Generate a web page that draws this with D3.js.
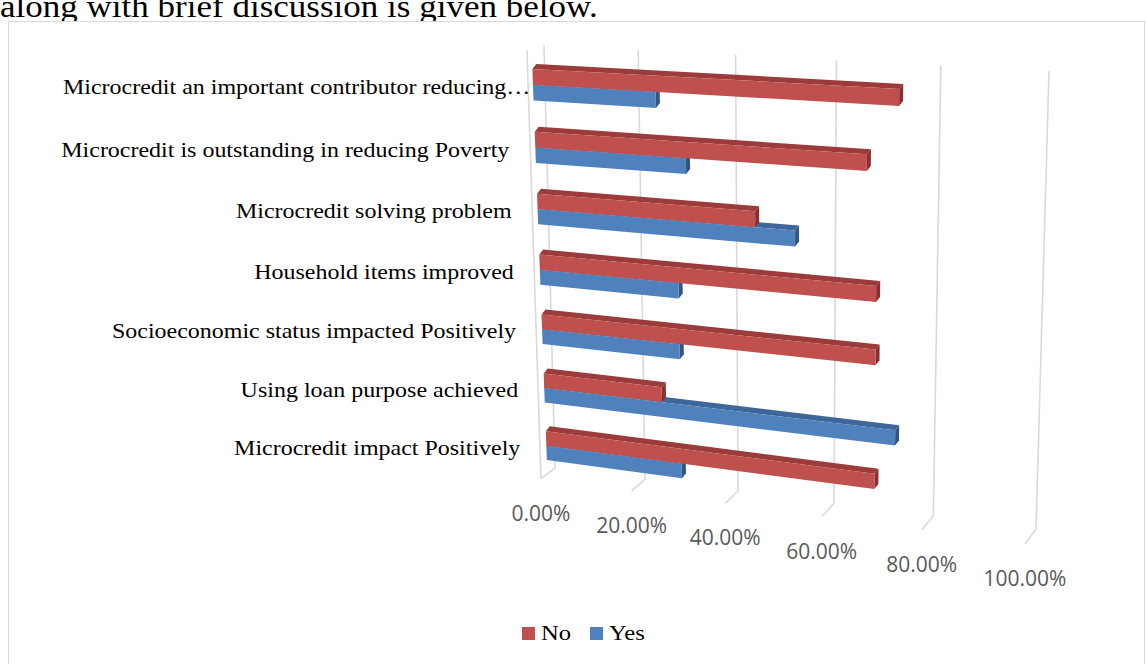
<!DOCTYPE html>
<html><head><meta charset="utf-8">
<script src="https://cdn.jsdelivr.net/npm/d3@7"></script>
<style>body{margin:0;background:#fff}svg{display:block}</style>
</head><body><svg id="c" width="1146" height="664"></svg>
<script>
// ---------- data ----------
const categories = [
  "Microcredit impact Positively",
  "Using loan purpose achieved",
  "Socioeconomic status impacted Positively",
  "Household items improved",
  "Microcredit solving problem",
  "Microcredit is outstanding in reducing Poverty",
  "Microcredit an important contributor reducing\u2026"
];
const seriesNames = ["No", "Yes"];
const noValues  = [0.70, 0.26, 0.70, 0.70, 0.46, 0.68, 0.74];
const yesValues = [0.30, 0.74, 0.30, 0.30, 0.54, 0.32, 0.26];
const tickValues = [0, 0.2, 0.4, 0.6, 0.8, 1.0];
const tickLabels = ["0.00%", "20.00%", "40.00%", "60.00%", "80.00%", "100.00%"];

// ---------- projection helpers (perspective quad maps) ----------
function quadMap(p00, p10, p11, p01) {
  const [x0,y0]=p00,[x1,y1]=p10,[x2,y2]=p11,[x3,y3]=p01;
  const dx1=x1-x2, dx2=x3-x2, dx3=x0-x1+x2-x3;
  const dy1=y1-y2, dy2=y3-y2, dy3=y0-y1+y2-y3;
  const den = dx1*dy2-dx2*dy1;
  const g=(dx3*dy2-dx2*dy3)/den, h=(dx1*dy3-dx3*dy1)/den;
  const a=x1-x0+g*x1, b=x3-x0+h*x3, c=x0, d=y1-y0+g*y1, e=y3-y0+h*y3, f=y0;
  return (u,v)=>{const w=g*u+h*v+1; return [(a*u+b*v+c)/w,(d*u+e*v+f)/w];};
}
// back wall (value, height)
const WBL=[555,468], WBR=[1036,529], WTR=[1049,71], WTL=[544,45];
const wall = quadMap(WBL, WBR, WTR, WTL);
// floor front edge
const FL=[541,478.6], FR=[1025,544];
function floorFront(u) {
  const t = (wall(u,0)[0]-WBL[0])/(WBR[0]-WBL[0]);
  return [FL[0]+t*(FR[0]-FL[0]), FL[1]+t*(FR[1]-FL[1])];
}
// plane of bars' front faces (value, height)
const barPlane = quadMap([547.4,474.2],[1027.9,540.4],[1042.2,79.3],[531.8,53]);
const depth = [4, -5];

const xScale = d3.scaleLinear().domain([0,1]).range([0,1]);
const catScale = d3.scaleBand().domain(categories).range([0,1]).paddingInner(0.5).paddingOuter(0.25);
const serScale = d3.scaleBand().domain(["Yes","No"]).range([0, catScale.bandwidth()]);
const colors = {
  No:  {front:"#C0504D", top:"#9B3C3A", cap:"#8A2F2D"},
  Yes: {front:"#4F81BD", top:"#3E6699", cap:"#34557F"}
};

const svg = d3.select("#c");

// paragraph text above the chart (partly hidden by the chart frame)
svg.append("text").attr("transform","translate(0,17) scale(1.13,1)")
  .attr("font-family","'Liberation Serif', 'Times New Roman', serif").attr("font-size",31)
  .attr("fill","#000").text("along with brief discussion is given below.");

svg.append("rect").attr("x",8.5).attr("y",21.5).attr("width",1136).attr("height",700)
  .attr("fill","#fff").attr("stroke","#D9D9D9").attr("stroke-width",1);

// ---------- walls / gridlines ----------
const grid = svg.append("g").attr("stroke","#D9D9D9").attr("stroke-width",1.6).attr("fill","none");
const line = d3.line();
tickValues.forEach(t => {
  const u = xScale(t);
  grid.append("path").attr("d", line([wall(u,1), wall(u,0), floorFront(u)]));
});
grid.append("path").attr("d", line([floorFront(0), [527,50]]));

// tick labels
svg.append("g").selectAll("text").data(tickValues).join("text")
  .attr("x", d => floorFront(xScale(d))[0])
  .attr("y", d => floorFront(xScale(d))[1] + 42)
  .attr("text-anchor","middle")
  .attr("font-family","'Open Sans', sans-serif").attr("font-size",21)
  .attr("fill","#595959")
  .text((d,i) => tickLabels[i]);

// ---------- bars ----------
const bars = [];
categories.forEach((c,i) => {
  bars.push({cat:c, s:"Yes", v:yesValues[i]});
  bars.push({cat:c, s:"No", v:noValues[i]});
});
const add = (p) => [p[0]+depth[0], p[1]+depth[1]];
const gBars = svg.append("g");
bars.forEach(b => {
  const h0 = catScale(b.cat) + serScale(b.s);
  const h1 = h0 + serScale.bandwidth();
  const u = xScale(b.v);
  const fl0 = barPlane(0,h0), fr0 = barPlane(u,h0), fr1 = barPlane(u,h1), fl1 = barPlane(0,h1);
  const col = colors[b.s];
  gBars.append("path").attr("d", line([fl1, fr1, add(fr1), add(fl1)]) + "Z").attr("fill", col.top);
  gBars.append("path").attr("d", line([fr0, fr1, add(fr1), add(fr0)]) + "Z").attr("fill", col.cap);
  gBars.append("path").attr("d", line([fl0, fr0, fr1, fl1]) + "Z").attr("fill", col.front);
});

// ---------- category labels ----------
const gLab = svg.append("g");
categories.forEach(c => {
  const p = barPlane(0, catScale(c) + catScale.bandwidth()/2);
  const truncated = c.endsWith("\u2026");
  const x = truncated ? 63 : p[0] - 26;
  gLab.append("text")
    .attr("transform", `translate(${x},${p[1]+2}) scale(1.1,1)`)
    .attr("text-anchor", truncated ? "start" : "end")
    .attr("dominant-baseline","central")
    .attr("font-family","'Liberation Serif', 'Times New Roman', serif").attr("font-size",21.8)
    .attr("fill","#000").text(c);
});

// ---------- legend ----------
const legend = svg.append("g");
const legX = [522, 590];
seriesNames.forEach((s,i) => {
  legend.append("rect").attr("x",legX[i]).attr("y",627).attr("width",13).attr("height",13).attr("fill",colors[s].front);
  legend.append("text").attr("transform",`translate(${legX[i]+19},640) scale(1.12,1)`)
    .attr("font-family","'Liberation Serif', 'Times New Roman', serif").attr("font-size",22)
    .attr("fill","#000").text(s);
});
</script></body></html>
